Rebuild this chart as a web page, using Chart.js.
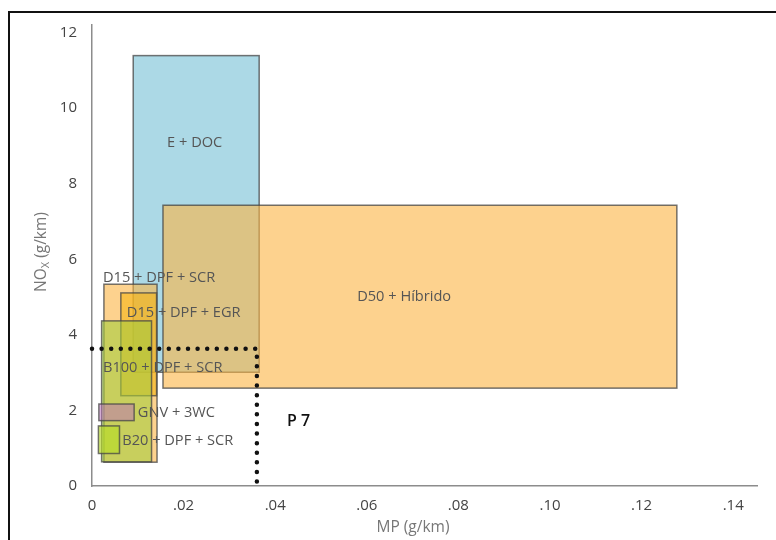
<!DOCTYPE html>
<html>
<head>
<meta charset="utf-8">
<script src="https://cdn.jsdelivr.net/npm/chart.js@4"></script>
<style>
  html, body { margin: 0; padding: 0; background: #fff; }
  canvas { display: block; }
</style>
</head>
<body>
<canvas id="chart" width="776" height="540"></canvas>
<script>
// tick values / labels
const xTicks = [0, 0.02, 0.04, 0.06, 0.08, 0.10, 0.12, 0.14];
const xTickLabels = ["0", ".02", ".04", ".06", ".08", ".10", ".12", ".14"];
const yTicks = [0, 2, 4, 6, 8, 10, 12];

// technology boxes: MP range (x) and NOx range (y)
const boxNames = ["E + DOC", "D50 + Híbrido", "D15 + DPF + SCR", "D15 + DPF + EGR", "B100 + DPF + SCR", "GNV + 3WC", "B20 + DPF + SCR"];
const mpMin  = [0.0090, 0.0155, 0.0026, 0.0063, 0.0021, 0.0015, 0.0014];
const mpMax  = [0.0365, 0.1277, 0.0142, 0.0141, 0.0130, 0.0092, 0.0060];
const noxMin = [3.01, 2.59, 0.63, 2.39, 0.64, 1.73, 0.86];
const noxMax = [11.39, 7.43, 5.34, 5.11, 4.37, 2.17, 1.59];

// where each name is written (left edge, middle)
const labelX = [0.0164, 0.0579, 0.0024, 0.0076, 0.0024, 0.0100, 0.0066];
const labelY = [9.07, 5.00, 5.50, 4.57, 3.12, 1.93, 1.19];

// P7 limit
const p7MP = 0.036;
const p7NOx = 3.63;
const p7Label = "P 7";
const p7LabelX = 0.0426, p7LabelY = 1.72;

const boxColors = [
  "rgb(172,217,230)",
  "rgba(252,180,67,0.6)",
  "rgba(252,180,67,0.6)",
  "rgba(245,180,20,0.6)",
  "rgba(165,205,60,0.6)",
  "rgba(190,110,190,0.5)",
  "rgba(185,220,40,0.65)"
];

const FONT = "'Open Sans', 'DejaVu Sans', sans-serif";

const boxesPlugin = {
  id: "boxes",
  beforeDatasetsDraw(chart) {
    const {ctx, scales: {x, y}} = chart;
    ctx.save();
    boxNames.forEach((n, i) => {
      const l = x.getPixelForValue(mpMin[i]), r = x.getPixelForValue(mpMax[i]);
      const t = y.getPixelForValue(noxMax[i]), b = y.getPixelForValue(noxMin[i]);
      ctx.fillStyle = boxColors[i];
      ctx.fillRect(l, t, r - l, b - t);
      ctx.strokeStyle = "rgba(70,70,70,0.75)";
      ctx.lineWidth = 1.5;
      ctx.strokeRect(l, t, r - l, b - t);
    });
    ctx.restore();
  },
  afterDatasetsDraw(chart) {
    const {ctx, scales: {x, y}} = chart;
    ctx.save();
    ctx.textBaseline = "middle";
    ctx.textAlign = "left";
    ctx.font = "14.6px " + FONT;
    ctx.fillStyle = "#555";
    boxNames.forEach((n, i) => {
      ctx.fillText(n, x.getPixelForValue(labelX[i]), y.getPixelForValue(labelY[i]));
    });
    ctx.font = "600 16px " + FONT;
    ctx.fillStyle = "#111";
    ctx.fillText(p7Label, x.getPixelForValue(p7LabelX), y.getPixelForValue(p7LabelY));
    ctx.restore();
  },
  afterDraw(chart) {
    const {ctx} = chart;
    ctx.save();
    // axis titles
    ctx.fillStyle = "#777";
    ctx.font = "15.5px " + FONT;
    ctx.textAlign = "center";
    ctx.textBaseline = "middle";
    ctx.fillText("MP (g/km)", 413, 528);
    ctx.translate(42, 252);
    ctx.rotate(-Math.PI / 2);
    const w1 = ctx.measureText("NO").width;
    ctx.font = "11px " + FONT;
    const w2 = ctx.measureText("X").width;
    ctx.font = "15.5px " + FONT;
    const w3 = ctx.measureText(" (g/km)").width;
    let sx = -(w1 + w2 + w3) / 2;
    ctx.textAlign = "left";
    ctx.fillText("NO", sx, 0);
    ctx.font = "11px " + FONT;
    ctx.fillText("X", sx + w1, 4);
    ctx.font = "15.5px " + FONT;
    ctx.fillText(" (g/km)", sx + w1 + w2, 0);
    ctx.restore();
    // frame
    ctx.save();
    ctx.strokeStyle = "#111";
    ctx.lineWidth = 2;
    ctx.beginPath();
    ctx.moveTo(9, 540);
    ctx.lineTo(9, 12);
    ctx.lineTo(776, 12);
    ctx.stroke();
    ctx.restore();
  }
};

new Chart(document.getElementById("chart"), {
  type: "scatter",
  data: {
    datasets: [{
      label: "P7",
      data: [{x: 0, y: p7NOx}, {x: p7MP, y: p7NOx}, {x: p7MP, y: 0}],
      showLine: true,
      borderColor: "#111",
      borderWidth: 4.5,
      borderDash: [0, 9.6],
      borderCapStyle: "round",
      pointRadius: 0,
      fill: false,
      clip: false
    }]
  },
  options: {
    responsive: false,
    devicePixelRatio: 1,
    animation: false,
    layout: { padding: { top: 25, right: 19, left: 0, bottom: 0 } },
    plugins: { legend: { display: false }, tooltip: { enabled: false } },
    scales: {
      x: {
        type: "linear",
        min: 0, max: 0.1452,
        grid: { display: false, drawTicks: false },
        border: { display: true, color: "#8c8c8c", width: 1.5 },
        ticks: {
          color: "#444", font: { size: 15, family: FONT }, padding: 11,
          maxRotation: 0, autoSkip: false,
          callback: (v, i) => xTickLabels[i]
        },
        afterBuildTicks: s => { s.ticks = xTicks.map(v => ({value: v})); },
        afterFit: s => { s.height = 54; }
      },
      y: {
        type: "linear",
        min: 0, max: 12.2,
        grid: { display: false, drawTicks: false },
        border: { display: true, color: "#8c8c8c", width: 1.5 },
        ticks: { color: "#444", font: { size: 15, family: FONT }, padding: 15 },
        afterBuildTicks: s => { s.ticks = yTicks.map(v => ({value: v})); },
        afterFit: s => { s.width = 92; }
      }
    }
  },
  plugins: [boxesPlugin]
});
</script>
</body>
</html>
